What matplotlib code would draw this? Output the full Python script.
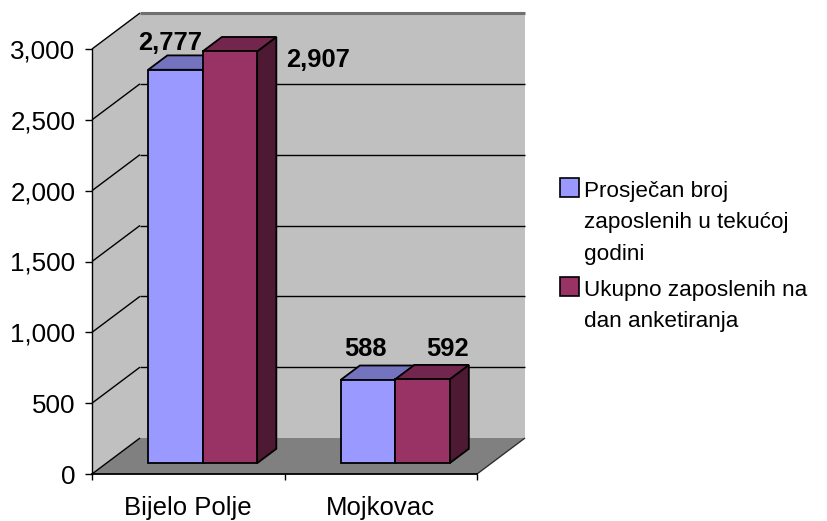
import matplotlib
matplotlib.use("Agg")
import matplotlib.pyplot as plt
from matplotlib.patches import Polygon, Rectangle
from matplotlib.ticker import FuncFormatter

plt.rcParams['font.family'] = ['Liberation Sans', 'DejaVu Sans']

categories = ['Bijelo Polje', 'Mojkovac']
series_names = ['Prosječan broj\nzaposlenih u tekućoj\ngodini',
                'Ukupno zaposlenih na\ndan anketiranja']
prosjecan = [2777, 588]
ukupno = [2907, 592]
y_ticks = [0, 500, 1000, 1500, 2000, 2500, 3000]

front_colors = ['#9999ff', '#993366']
top_colors = ['#7373bf', '#73264d']
side_colors = ['#4d4d80', '#4d1933']

W, H = 827, 521
fig = plt.figure(figsize=(W / 100, H / 100), dpi=100)
# axes box = front plane of the 3d chart (pixels)
ax = fig.add_axes([92 / W, (H - 474) / H, 385 / W, 425 / H])
ax.set_xlim(-0.5, 1.5)
ax.set_ylim(0, 3000)
ax.patch.set_visible(False)

# depth offset of the back plane in data units
DX = 48 * 2.0 / 385
DY = 36 * 3000 / 425


def p(x, y, d):
    return (x + d * DX, y + d * DY)


def poly(pts, fc, ec='none', lw=0, z=1):
    ax.add_patch(Polygon(pts, closed=True, facecolor=fc, edgecolor=ec,
                         linewidth=lw, zorder=z, clip_on=False,
                         joinstyle='miter'))


def line(a, b, color='black', lw=1.0, z=2):
    ax.plot([a[0], b[0]], [a[1], b[1]], color=color, lw=lw, zorder=z,
            clip_on=False, solid_capstyle='butt')


x0, x1 = -0.5, 1.5
ymax = y_ticks[-1]

# walls and floor
poly([p(x0, 0, 1), p(x1, 0, 1), p(x1, ymax, 1), p(x0, ymax, 1)], '#c0c0c0')
poly([p(x0, 0, 0), p(x0, 0, 1), p(x0, ymax, 1), p(x0, ymax, 0)], '#c0c0c0')
poly([p(x0, 0, 0), p(x1, 0, 0), p(x1, 0, 1), p(x0, 0, 1)], '#808080')

for v in y_ticks:
    line(p(x0, v, 0), p(x0, v, 1), lw=1.0)
    if 0 < v < ymax:
        line(p(x0, v, 1), p(x1, v, 1), lw=1.0)
line(p(x0, ymax, 1), p(x1, ymax, 1), color='#707070', lw=2.2)
line(p(x1, 0, 0), p(x1, 0, 1), color='#303030', lw=1.0)

# bars
bw = 0.283
d0, d1 = 0.3, 0.7
label_offsets = [[(-5, 27), (88, -9)], [(-2, 31), (25, 30)]]
for i, cat in enumerate(categories):
    for s, vals in enumerate([prosjecan, ukupno]):
        v = vals[i]
        a = i - bw + s * bw
        b = a + bw
        kw = dict(ec='black', lw=1.3, z=3)
        poly([p(b, 0, d0), p(b, 0, d1), p(b, v, d1), p(b, v, d0)], side_colors[s], **kw)
        poly([p(a, v, d0), p(b, v, d0), p(b, v, d1), p(a, v, d1)], top_colors[s], **kw)
        poly([p(a, 0, d0), p(b, 0, d0), p(b, v, d0), p(a, v, d0)], front_colors[s], **kw)
        ax.annotate(f"{v:,}", xy=p((a + b) / 2, v, d0),
                    xytext=label_offsets[i][s], textcoords='offset pixels',
                    ha='center', va='center', fontsize=18.4,
                    fontweight='bold', zorder=5, annotation_clip=False)

# axes
for sp in ['top', 'right']:
    ax.spines[sp].set_visible(False)
ax.spines['left'].set_linewidth(1.0)
ax.spines['bottom'].set_linewidth(1.3)
ax.spines['left'].set_zorder(4)
ax.spines['bottom'].set_zorder(4)
ax.set_yticks(y_ticks)
ax.yaxis.set_major_formatter(FuncFormatter(lambda x, pos: f"{x:,.0f}"))
ax.tick_params(axis='y', length=5, width=1, pad=7, labelsize=18.7)
ax.set_xticks([-0.5, 0.5, 1.5])
ax.set_xticklabels([])
ax.set_xticks([0, 1], minor=True)
ax.set_xticklabels(categories, minor=True)
ax.tick_params(axis='x', which='major', length=4.5, width=1)
ax.tick_params(axis='x', which='minor', length=0, pad=16, labelsize=18.5)

# legend
legend_rows = [(178, 185), (277, 284)]
for s, name in enumerate(series_names):
    sq_top, txt_top = legend_rows[s]
    fig.add_artist(Rectangle((560 / W, (H - sq_top - 19) / H), 19 / W, 19 / H,
                             transform=fig.transFigure, facecolor=front_colors[s],
                             edgecolor='black', linewidth=1.2))
    fig.text(584 / W, (H - txt_top + 4) / H, name, fontsize=16.2,
             va='top', ha='left', linespacing=1.65)

fig.savefig('out.png', dpi=100)
